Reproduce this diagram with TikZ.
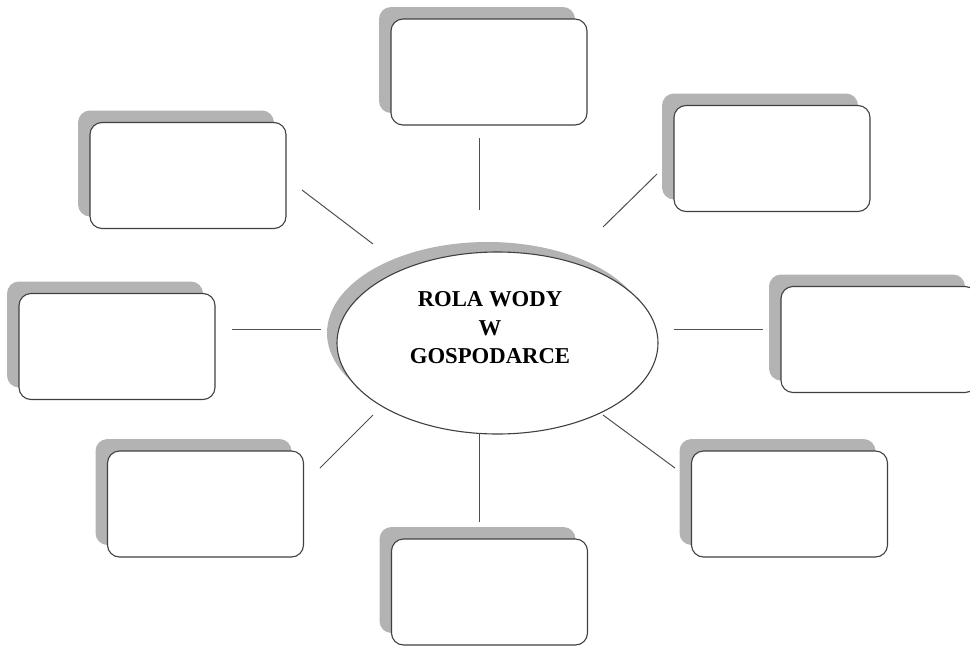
\documentclass[tikz,border=0pt]{standalone}
\usepackage{fontspec}
\setmainfont{Liberation Serif}
\usetikzlibrary{shapes.geometric,shadows}
\definecolor{shadowgray}{HTML}{B3B3B3}
\definecolor{edgegray}{HTML}{404040}
\definecolor{linegray}{HTML}{505050}
\tikzset{
  card/.style={rectangle, rounded corners=12pt, draw=edgegray, line width=1.1pt, fill=white,
    minimum width=196pt, minimum height=106pt, inner sep=0pt,
    drop shadow={shadow xshift=-12pt, shadow yshift=12pt, fill=shadowgray, opacity=1}},
  hub/.style={ellipse, draw=edgegray, line width=1.1pt, fill=white,
    minimum width=321pt, minimum height=182pt, inner sep=0pt,
    drop shadow={shadow xshift=-10pt, shadow yshift=10pt, fill=shadowgray, opacity=1}},
  spoke/.style={draw=linegray, line width=1pt}
}
\begin{document}
\begin{tikzpicture}[x=1pt,y=-1pt]
\useasboundingbox (0,0) rectangle (970,648);
\clip (0,0) rectangle (970,648);
% hub
\node[hub] (c) at (497.5,343) {};
\node[align=center, font={\fontsize{22.7}{28.5}\selectfont\bfseries}] (t) at (490,328) {ROLA WODY\\W\\GOSPODARCE};
% cards
\node[card] (n)  at (489,72) {};
\node[card] (ne) at (772,158.5) {};
\node[card] (e)  at (879,339.5) {};
\node[card] (se) at (789.5,504) {};
\node[card] (s)  at (489.5,592) {};
\node[card] (sw) at (205.5,504) {};
\node[card] (w)  at (117,346.5) {};
\node[card] (nw) at (188,175.5) {};
% spoke end points
\coordinate (n1) at (479,138);  \coordinate (n2) at (479,210);
\coordinate (ne1) at (657,174); \coordinate (ne2) at (603,227);
\coordinate (e1) at (763,329);  \coordinate (e2) at (674,329);
\coordinate (se1) at (675,468); \coordinate (se2) at (603,415);
\coordinate (s1) at (479,522);  \coordinate (s2) at (479,433);
\coordinate (sw1) at (320,468); \coordinate (sw2) at (373,415);
\coordinate (w1) at (232,329);  \coordinate (w2) at (321,329);
\coordinate (nw1) at (302,190); \coordinate (nw2) at (373,244);
\draw[spoke] (n1) -- (n2);
\draw[spoke] (ne1) -- (ne2);
\draw[spoke] (e1) -- (e2);
\draw[spoke] (se1) -- (se2);
\draw[spoke] (s1) -- (s2);
\draw[spoke] (sw1) -- (sw2);
\draw[spoke] (w1) -- (w2);
\draw[spoke] (nw1) -- (nw2);
\end{tikzpicture}
\end{document}
